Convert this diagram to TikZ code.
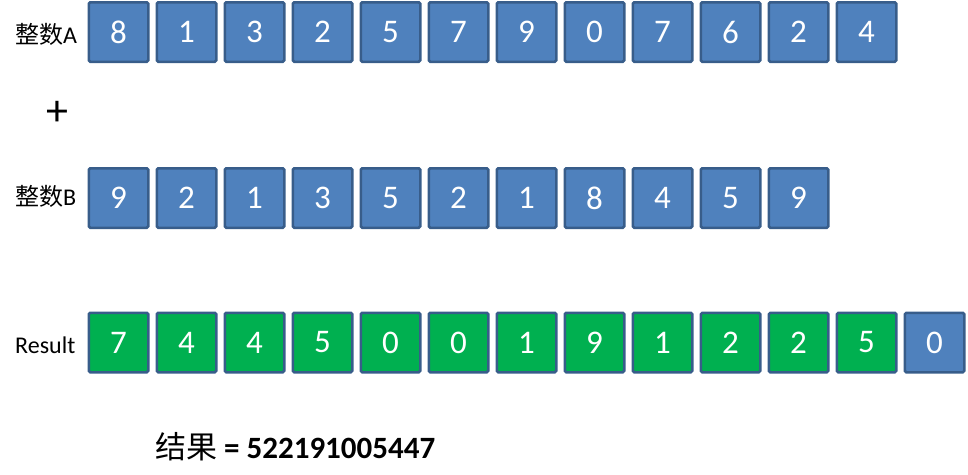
\documentclass[tikz,border=0pt]{standalone}
\usepackage{fontspec}
\setmainfont{Carlito}
\newfontfamily\cjk{Noto Sans CJK SC}
\definecolor{boxblue}{HTML}{4F81BD}
\definecolor{boxedge}{HTML}{385D8A}
\definecolor{boxgreen}{HTML}{00B050}
\begin{document}
\begin{tikzpicture}[x=1pt,y=-1pt,
  cell/.style={draw=boxedge, line width=2.5pt, rounded corners=1.5pt, inner sep=0pt,
    minimum width=59.5pt, minimum height=59.5pt, text=white, font=\fontsize{33}{33}\selectfont},
  bluecell/.style={cell, fill=boxblue},
  greencell/.style={cell, fill=boxgreen},
  rowlabel/.style={anchor=west, inner sep=0pt, font=\fontsize{24}{24}\selectfont}]
\useasboundingbox (0,0) rectangle (968,474);
% row A
\foreach \d [count=\i] in {8,1,3,2,5,7,9,0,7,6,2,4}
  \node[bluecell] (a\i) at ({118.5+68*(\i-1)},32) {\d};
% row B
\foreach \d [count=\i] in {9,2,1,3,5,2,1,8,4,5,9}
  \node[bluecell] (b\i) at ({118.5+68*(\i-1)},198) {\d};
% result row
\foreach \d [count=\i] in {7,4,4,5,0,0,1,9,1,2,2,5}
  \node[greencell] (r\i) at ({118.5+68*(\i-1)},342.5) {\d};
\node[bluecell] (r13) at ({118.5+68*12},342.5) {0};
% labels
\node[rowlabel] (la) at (15,34) {{\cjk 整数}A};
\node[rowlabel] (lb) at (15,196) {{\cjk 整数}B};
\node[rowlabel] (lr) at (15,345) {Result};
\node[inner sep=0pt, font=\fontsize{44}{44}\selectfont] (plus) at (57,113) {+};
\node[anchor=west, inner sep=0pt] (res) at (155,447)
  {{\cjk\fontsize{31}{31}\selectfont 结果}\fontsize{31}{31}\selectfont\bfseries{} = 522191005447};
\end{tikzpicture}
\end{document}
